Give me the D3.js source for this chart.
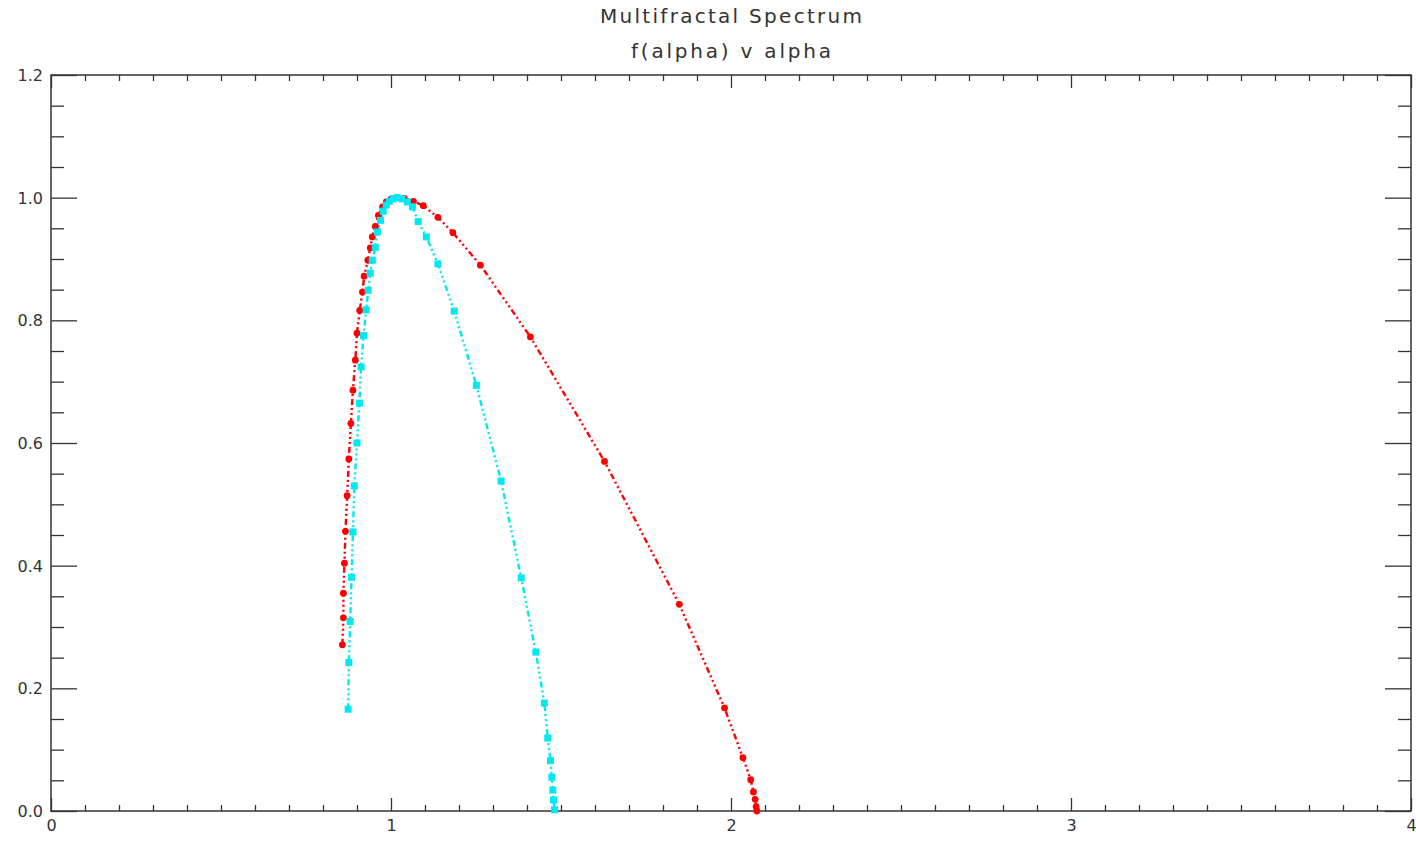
<!DOCTYPE html>
<html>
<head>
<meta charset="utf-8">
<script src="https://cdn.jsdelivr.net/npm/d3@7"></script>
<style>
  body { margin: 0; background: #fff; }
  text { font-family: "DejaVu Sans", sans-serif; fill: #333; }
</style>
</head>
<body>
<div id="chart"></div>
<script>
// f(alpha) spectrum, red series (circles)
const redAlpha = [0.857, 0.860, 0.860, 0.863, 0.866, 0.871, 0.876, 0.882, 0.888, 0.895, 0.900, 0.908,
  0.916, 0.921, 0.932, 0.939, 0.945, 0.954, 0.963, 0.975, 0.986, 1.001, 1.018, 1.039, 1.066, 1.095,
  1.138, 1.182, 1.263, 1.410, 1.628, 1.848, 1.981, 2.035, 2.058, 2.066, 2.071, 2.074, 2.076];
const redF = [0.271, 0.315, 0.355, 0.404, 0.456, 0.514, 0.574, 0.632, 0.686, 0.735, 0.779, 0.816,
  0.846, 0.872, 0.898, 0.918, 0.936, 0.953, 0.971, 0.985, 0.993, 0.998, 1.000, 0.999, 0.994, 0.987,
  0.968, 0.943, 0.890, 0.773, 0.570, 0.337, 0.168, 0.087, 0.051, 0.031, 0.019, 0.007, 0.000];

// cyan series (squares)
const cyanAlpha = [0.874, 0.876, 0.880, 0.884, 0.888, 0.892, 0.900, 0.907, 0.912, 0.919, 0.927, 0.933,
  0.939, 0.945, 0.954, 0.960, 0.969, 0.977, 0.986, 0.995, 1.007, 1.018, 1.033, 1.048, 1.063, 1.080,
  1.104, 1.138, 1.186, 1.251, 1.324, 1.383, 1.426, 1.451, 1.461, 1.469, 1.473, 1.476, 1.478, 1.481];
const cyanF = [0.166, 0.242, 0.309, 0.381, 0.455, 0.530, 0.600, 0.665, 0.724, 0.775, 0.817, 0.849,
  0.877, 0.898, 0.919, 0.944, 0.963, 0.978, 0.988, 0.994, 0.998, 1.000, 0.998, 0.993, 0.985, 0.961,
  0.936, 0.892, 0.815, 0.694, 0.538, 0.380, 0.259, 0.176, 0.119, 0.082, 0.055, 0.034, 0.018, 0.002];

const xTicks = [0, 1, 2, 3, 4];
const yTicks = [0.0, 0.2, 0.4, 0.6, 0.8, 1.0, 1.2];
const titleLines = ["Multifractal Spectrum", "f(alpha) v alpha"];

const W = 1416, H = 841;
const margin = { top: 75, right: 5, bottom: 30, left: 51 },
  width = W - margin.left - margin.right,
  height = H - margin.top - margin.bottom;

const svg = d3.select("#chart").append("svg")
  .attr("width", W).attr("height", H);

svg.append("text").attr("x", margin.left + width / 2).attr("y", 23)
  .attr("text-anchor", "middle").style("font-size", "20px")
  .attr("textLength", 262).attr("lengthAdjust", "spacing")
  .text(titleLines[0]);
svg.append("text").attr("x", margin.left + width / 2).attr("y", 58)
  .attr("text-anchor", "middle").style("font-size", "20px")
  .attr("textLength", 200).attr("lengthAdjust", "spacing")
  .text(titleLines[1]);

const g = svg.append("g").attr("transform", `translate(${margin.left},${margin.top})`);

const x = d3.scaleLinear().domain([0, 4]).range([0, width]);
const y = d3.scaleLinear().domain([0, 1.2]).range([height, 0]);

const xMinor = d3.range(0, 4.0001, 0.1).filter(v => Math.abs(v - Math.round(v)) > 1e-6);
const yMinor = d3.range(0, 1.2001, 0.05).filter(v => Math.abs(v * 5 - Math.round(v * 5)) > 1e-6);

function styleAxis(sel) {
  sel.select(".domain").remove();
  sel.selectAll("line").attr("stroke", "#333").attr("stroke-width", 1.3);
  sel.selectAll("text").style("font-size", "16px").style("font-family", "DejaVu Sans, sans-serif").attr("fill", "#444");
}

// bottom
g.append("g").attr("transform", `translate(0,${height})`)
  .call(d3.axisBottom(x).tickValues(xTicks).tickSize(-13).tickPadding(9).tickFormat(d3.format("d")))
  .call(styleAxis);
g.append("g").attr("transform", `translate(0,${height})`)
  .call(d3.axisBottom(x).tickValues(xMinor).tickSize(-6).tickFormat(""))
  .call(styleAxis);
// top
g.append("g")
  .call(d3.axisTop(x).tickValues(xTicks).tickSize(-13).tickFormat(""))
  .call(styleAxis);
g.append("g")
  .call(d3.axisTop(x).tickValues(xMinor).tickSize(-6).tickFormat(""))
  .call(styleAxis);
// left
g.append("g")
  .call(d3.axisLeft(y).tickValues(yTicks).tickSize(-26).tickPadding(8).tickFormat(d3.format(".1f")))
  .call(styleAxis)
  .selectAll("text").attr("dy", "0.35em");
g.append("g")
  .call(d3.axisLeft(y).tickValues(yMinor).tickSize(-13).tickFormat(""))
  .call(styleAxis);
// right
g.append("g").attr("transform", `translate(${width},0)`)
  .call(d3.axisRight(y).tickValues(yTicks).tickSize(-26).tickFormat(""))
  .call(styleAxis);
g.append("g").attr("transform", `translate(${width},0)`)
  .call(d3.axisRight(y).tickValues(yMinor).tickSize(-13).tickFormat(""))
  .call(styleAxis);

// frame
g.append("rect").attr("width", width).attr("height", height)
  .attr("fill", "none").attr("stroke", "#333").attr("stroke-width", 1.5);

const line = d3.line().x(d => x(d[0])).y(d => y(d[1]));
const dashes = "6,3,2,3,2,3,2,3";

const red = redAlpha.map((a, i) => [a, redF[i]]);
const cyan = cyanAlpha.map((a, i) => [a, cyanF[i]]);

g.append("path").datum(red).attr("d", line)
  .attr("fill", "none").attr("stroke", "#ff0000").attr("stroke-width", 2.4)
  .attr("stroke-dasharray", dashes);
g.append("path").datum(cyan).attr("d", line)
  .attr("fill", "none").attr("stroke", "#00e8f0").attr("stroke-width", 2.4)
  .attr("stroke-dasharray", dashes);

g.selectAll(".rdot").data(red).enter().append("circle")
  .attr("cx", d => x(d[0])).attr("cy", d => y(d[1])).attr("r", 3.4)
  .attr("fill", "#ff0000");
g.selectAll(".csq").data(cyan).enter().append("rect")
  .attr("x", d => x(d[0]) - 3.5).attr("y", d => y(d[1]) - 3.5)
  .attr("width", 7).attr("height", 7)
  .attr("fill", "#00e8f0");
</script>
</body>
</html>
